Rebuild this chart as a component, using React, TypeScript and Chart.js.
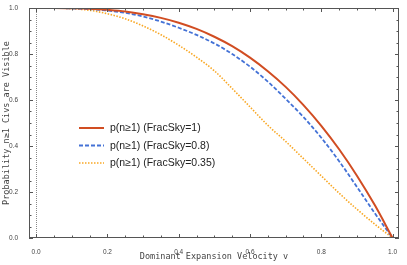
import React, { useEffect, useRef } from "react";
import { Chart, registerables } from "chart.js";

Chart.register(...registerables);

// Dominant expansion velocity v
const V = [0, 0.05, 0.1, 0.15, 0.2, 0.25, 0.3, 0.35, 0.4, 0.45, 0.5, 0.55, 0.6, 0.65, 0.7, 0.75, 0.8, 0.85, 0.9, 0.95, 1];
// p(n>=1), FracSky = 1
const FRAC_1 = [1, 1, 0.999, 0.997, 0.992, 0.985, 0.973, 0.957, 0.936, 0.909, 0.875, 0.834, 0.784, 0.725, 0.657, 0.578, 0.488, 0.386, 0.271, 0.143, 0];
// p(n>=1), FracSky = 0.8
const FRAC_08 = [1, 1, 0.998, 0.995, 0.989, 0.979, 0.963, 0.941, 0.914, 0.883, 0.846, 0.8, 0.745, 0.68, 0.605, 0.526, 0.436, 0.334, 0.222, 0.108, 0];
// p(n>=1), FracSky = 0.35
const FRAC_035 = [1, 1, 0.997, 0.99, 0.975, 0.953, 0.922, 0.884, 0.838, 0.786, 0.727, 0.65, 0.57, 0.49, 0.42, 0.345, 0.27, 0.195, 0.125, 0.06, 0];

const SERIES_LABELS = ["p(n\u22651) (FracSky=1)", "p(n\u22651) (FracSky=0.8)", "p(n\u22651) (FracSky=0.35)"];
const TICK_VALUES = [0, 0.05, 0.1, 0.15, 0.2, 0.25, 0.3, 0.35, 0.4, 0.45, 0.5, 0.55, 0.6, 0.65, 0.7, 0.75, 0.8, 0.85, 0.9, 0.95, 1];
const MAJOR_TICKS = [0, 0.2, 0.4, 0.6, 0.8, 1];
const X_TITLE = "Dominant Expansion Velocity v";
const Y_TITLE = "Probability n\u22651 Civs are Visible";

const COLORS = ["#d14d22", "#4472d6", "#f9a825"];
const DASHES: number[][] = [[], [4, 2], [1.5, 1.5]];
const WIDTHS = [2, 1.8, 1.6];

const isMajor = (v: number) => MAJOR_TICKS.some((m) => Math.abs(m - v) < 1e-6);

const framePlugin = {
  id: "mmaFrame",
  beforeDatasetsDraw(chart: any) {
    const { ctx, chartArea, scales } = chart;
    const x0 = scales.x.getPixelForValue(0);
    ctx.save();
    ctx.strokeStyle = "#888";
    ctx.lineWidth = 1;
    ctx.setLineDash([1, 1]);
    ctx.beginPath();
    ctx.moveTo(Math.round(x0) + 0.5, chartArea.top);
    ctx.lineTo(Math.round(x0) + 0.5, chartArea.bottom);
    ctx.stroke();
    ctx.restore();
  },
  afterDatasetsDraw(chart: any) {
    const { ctx, chartArea, scales } = chart;
    const { left, right, top, bottom } = chartArea;
    ctx.save();
    ctx.strokeStyle = "#555";
    ctx.lineWidth = 1;
    ctx.strokeRect(left + 0.5, top + 0.5, right - left - 1, bottom - top - 1);
    ctx.beginPath();
    scales.x.ticks.forEach((t: any) => {
      const px = Math.round(scales.x.getPixelForValue(t.value)) + 0.5;
      const len = isMajor(t.value) ? 4 : 2.5;
      ctx.moveTo(px, bottom);
      ctx.lineTo(px, bottom - len);
      ctx.moveTo(px, top);
      ctx.lineTo(px, top + len);
    });
    scales.y.ticks.forEach((t: any) => {
      const py = Math.round(scales.y.getPixelForValue(t.value)) + 0.5;
      const len = isMajor(t.value) ? 4 : 2.5;
      ctx.moveTo(left, py);
      ctx.lineTo(left + len, py);
      ctx.moveTo(right, py);
      ctx.lineTo(right - len, py);
    });
    ctx.stroke();

    // legend inside plot area
    const lx = left + 50;
    const ly = top + 120;
    const rowH = 17.5;
    ctx.font = '10.5px "Liberation Sans", Arial, sans-serif';
    ctx.textBaseline = "middle";
    ctx.textAlign = "left";
    chart.data.datasets.forEach((ds: any, i: number) => {
      const y = ly + i * rowH;
      ctx.strokeStyle = ds.borderColor;
      ctx.lineWidth = ds.borderWidth;
      ctx.setLineDash(ds.borderDash || []);
      ctx.beginPath();
      ctx.moveTo(lx, y);
      ctx.lineTo(lx + 25, y);
      ctx.stroke();
      ctx.setLineDash([]);
      ctx.fillStyle = "#222";
      ctx.fillText(ds.label, lx + 31, y + 0.5);
    });
    ctx.restore();
  },
};

export default function App() {
  const canvasRef = useRef<HTMLCanvasElement | null>(null);

  useEffect(() => {
    if (!canvasRef.current) return;
    const series = [FRAC_1, FRAC_08, FRAC_035];
    const chart = new Chart(canvasRef.current, {
      type: "line",
      data: {
        datasets: series.map((vals, i) => ({
          label: SERIES_LABELS[i],
          data: V.map((v, j) => ({ x: v, y: vals[j] })),
          borderColor: COLORS[i],
          backgroundColor: COLORS[i],
          borderWidth: WIDTHS[i],
          borderDash: DASHES[i],
          pointRadius: 0,
          cubicInterpolationMode: "monotone" as const,
          fill: false,
        })),
      },
      options: {
        animation: false,
        responsive: true,
        maintainAspectRatio: false,
        layout: { padding: { top: 8, right: 8, left: 0, bottom: 0 } },
        plugins: { legend: { display: false }, tooltip: { enabled: false } },
        scales: {
          x: {
            type: "linear",
            min: -0.02,
            max: 1.018,
            afterBuildTicks: (scale: any) => {
              scale.ticks = TICK_VALUES.map((v) => ({ value: v }));
            },
            afterFit: (scale: any) => {
              scale.height = 27;
            },
            grid: { display: false },
            border: { display: false },
            ticks: {
              autoSkip: false,
              maxRotation: 0,
              padding: 2,
              color: "#444",
              font: { family: '"Liberation Sans", Arial, sans-serif', size: 6.5 },
              callback: (v: any) => (isMajor(Number(v)) ? Number(v).toFixed(1) : ""),
            },
            title: {
              display: true,
              text: X_TITLE,
              color: "#444",
              font: { family: '"DejaVu Sans Mono", monospace', size: 8.5 },
              padding: { top: 0, bottom: 3 },
            },
          },
          y: {
            type: "linear",
            min: 0,
            max: 1,
            afterBuildTicks: (scale: any) => {
              scale.ticks = TICK_VALUES.map((v) => ({ value: v }));
            },
            afterFit: (scale: any) => {
              scale.width = 29;
            },
            grid: { display: false },
            border: { display: false },
            ticks: {
              autoSkip: false,
              padding: 3,
              color: "#444",
              font: { family: '"Liberation Sans", Arial, sans-serif', size: 6.5 },
              callback: (v: any) => (isMajor(Number(v)) ? Number(v).toFixed(1) : ""),
            },
            title: {
              display: true,
              text: Y_TITLE,
              color: "#444",
              font: { family: '"DejaVu Sans Mono", monospace', size: 8.5 },
              padding: { top: 2, bottom: 0 },
            },
          },
        },
      },
      plugins: [framePlugin],
    });
    return () => chart.destroy();
  }, []);

  return (
    <div style={{ position: "fixed", left: 0, top: 0, width: 407, height: 265, background: "#fff" }}>
      <canvas ref={canvasRef} />
    </div>
  );
}
